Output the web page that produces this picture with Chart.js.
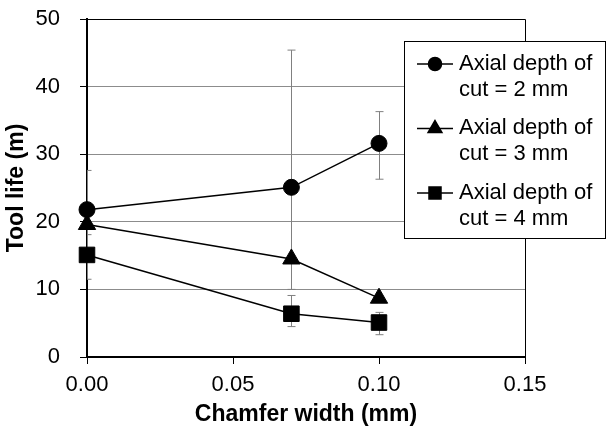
<!DOCTYPE html>
<html>
<head>
<meta charset="utf-8">
<script src="https://cdn.jsdelivr.net/npm/chart.js@4/dist/chart.umd.min.js"></script>
<style>
  body { margin: 0; background: #fff; }
  #wrap { width: 606px; height: 428px; }
</style>
</head>
<body>
<div id="wrap"><canvas id="toolLifeChart" width="606" height="428"></canvas></div>
<script>
// Data
const chamferWidths = [0, 0.07, 0.10];                  // Chamfer width (mm)
const depth2Life = [21.8, 25.1, 31.6];                  // Axial depth of cut = 2 mm
const depth3Life = [19.6, 14.5, 8.7];                   // Axial depth of cut = 3 mm
const depth4Life = [15.1, 6.4, 5.1];                    // Axial depth of cut = 4 mm
// error bars (plus / minus)
const depth2Plus = [5.8, 20.3, 4.7];
const depth2Minus = [5.8, 10.5, 5.3];
const depth3Plus = [0, 0, 0];
const depth3Minus = [0, 4.5, 0];
const depth4Plus = [3.0, 2.7, 1.5];
const depth4Minus = [3.6, 1.9, 1.8];
const seriesLabels = [
  ['Axial depth of', 'cut = 2 mm'],
  ['Axial depth of', 'cut = 3 mm'],
  ['Axial depth of', 'cut = 4 mm']
];
const yTicks = [0, 10, 20, 30, 40, 50];
const xTicks = [0, 0.05, 0.10, 0.15];

const FONT = "'Liberation Sans', Arial, sans-serif";

function toPoints(ys) {
  return chamferWidths.map((x, i) => ({ x: x, y: ys[i] }));
}

const errorSets = [
  { plus: depth2Plus, minus: depth2Minus, values: depth2Life },
  { plus: depth3Plus, minus: depth3Minus, values: depth3Life },
  { plus: depth4Plus, minus: depth4Minus, values: depth4Life }
];

// error bars, drawn behind the markers and clipped to the plot area
const errorBarPlugin = {
  id: 'errorBars',
  beforeDatasetsDraw(chart) {
    const { ctx, chartArea, scales } = chart;
    ctx.save();
    ctx.beginPath();
    ctx.rect(chartArea.left, chartArea.top, chartArea.right - chartArea.left, chartArea.bottom - chartArea.top);
    ctx.clip();
    ctx.strokeStyle = '#808080';
    ctx.lineWidth = 1;
    errorSets.forEach(set => {
      chamferWidths.forEach((xv, i) => {
        const px = Math.round(scales.x.getPixelForValue(xv)) + 0.5;
        const hi = scales.y.getPixelForValue(set.values[i] + set.plus[i]);
        const lo = scales.y.getPixelForValue(set.values[i] - set.minus[i]);
        if (hi === lo) return;
        ctx.beginPath();
        ctx.moveTo(px, hi);
        ctx.lineTo(px, lo);
        ctx.moveTo(px - 4, hi);
        ctx.lineTo(px + 4, hi);
        ctx.moveTo(px - 4, lo);
        ctx.lineTo(px + 4, lo);
        ctx.stroke();
      });
    });
    ctx.restore();

    // top and right frame of the plot area
    ctx.save();
    ctx.strokeStyle = '#000';
    ctx.lineWidth = 1;
    ctx.beginPath();
    ctx.moveTo(chartArea.left, chartArea.top + 0.5);
    ctx.lineTo(chartArea.right + 0.5, chartArea.top + 0.5);
    ctx.lineTo(chartArea.right + 0.5, chartArea.bottom);
    ctx.stroke();
    ctx.restore();
  }
};

// boxed legend with two-line labels, sitting over the plot's right edge
const boxLegendPlugin = {
  id: 'boxLegend',
  afterDraw(chart) {
    const ctx = chart.ctx;
    ctx.save();
    ctx.fillStyle = '#fff';
    ctx.fillRect(404, 41, 201, 197);
    ctx.strokeStyle = '#000';
    ctx.lineWidth = 1;
    ctx.strokeRect(404.5, 41.5, 201, 197);

    const legendSizes = [6.5, 8, 8.5];
    chart.data.datasets.forEach((ds, i) => {
      const y = 64 + i * 64.5;
      ctx.strokeStyle = '#000';
      ctx.lineWidth = 1.5;
      ctx.beginPath();
      ctx.moveTo(417, y);
      ctx.lineTo(453, y);
      ctx.stroke();
      ctx.fillStyle = '#000';
      Chart.helpers.drawPoint(ctx, {
        pointStyle: ds.pointStyle,
        radius: legendSizes[i],
        borderWidth: 1,
        rotation: 0
      }, 435, y);
      ctx.fill();

      ctx.fillStyle = '#000';
      ctx.font = '22px ' + FONT;
      ctx.textBaseline = 'middle';
      ctx.textAlign = 'left';
      seriesLabels[i].forEach((line, j) => {
        ctx.fillText(line, 459, y - 0.5 + j * 26);
      });
    });
    ctx.restore();
  }
};

function makeDataset(ys, style, radius) {
  return {
    data: toPoints(ys),
    showLine: true,
    borderColor: '#000',
    borderWidth: 1.5,
    backgroundColor: '#000',
    pointStyle: style,
    pointRadius: radius,
    pointBorderWidth: 1,
    pointBackgroundColor: '#000',
    pointBorderColor: '#000',
    clip: false
  };
}

new Chart(document.getElementById('toolLifeChart').getContext('2d'), {
  type: 'scatter',
  data: {
    datasets: [
      makeDataset(depth2Life, 'circle', 8),
      makeDataset(depth3Life, 'triangle', 10),
      makeDataset(depth4Life, 'rect', 11)
    ]
  },
  options: {
    responsive: false,
    animation: false,
    layout: { padding: { left: 0, right: 81, top: 19, bottom: 0 } },
    plugins: {
      legend: { display: false },
      tooltip: { enabled: false }
    },
    scales: {
      x: {
        type: 'linear',
        min: 0,
        max: 0.15,
        afterFit: s => {
          s.height = 71;
          s.paddingLeft = 0;
          s.paddingRight = 0;
        },
        afterBuildTicks: s => { s.ticks = xTicks.map(v => ({ value: v })); },
        ticks: {
          color: '#000',
          font: { family: FONT, size: 22 },
          padding: 8,
          maxRotation: 0,
          callback: v => Number(v).toFixed(2)
        },
        grid: { drawOnChartArea: false, drawTicks: true, tickLength: 7, tickColor: '#000' },
        border: { color: '#000', width: 2 },
        title: {
          display: true,
          text: 'Chamfer width (mm)',
          color: '#000',
          font: { family: FONT, size: 23, weight: 'bold' },
          padding: { top: 0, bottom: 0 }
        }
      },
      y: {
        min: 0,
        max: 50,
        afterFit: s => {
          s.width = 87;
          s.paddingTop = 0;
          s.paddingBottom = 0;
        },
        afterBuildTicks: s => { s.ticks = yTicks.map(v => ({ value: v })); },
        ticks: {
          color: '#000',
          font: { family: FONT, size: 22 },
          padding: 20
        },
        grid: { color: '#8c8c8c', lineWidth: 1, drawTicks: true, tickLength: 7, tickColor: '#000' },
        border: { color: '#000', width: 2 },
        title: {
          display: true,
          text: 'Tool life (m)',
          color: '#000',
          font: { family: FONT, size: 23, weight: 'bold' },
          padding: { top: 3, bottom: 0 }
        }
      }
    }
  },
  plugins: [errorBarPlugin, boxLegendPlugin]
});
</script>
</body>
</html>
